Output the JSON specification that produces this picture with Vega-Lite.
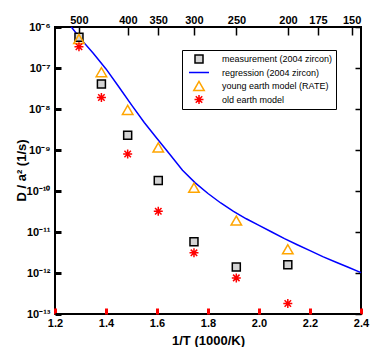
{
  "$schema": "https://vega.github.io/schema/vega-lite/v6.json",
  "width": 306,
  "height": 287,
  "autosize": {"type": "none"},
  "padding": {"left": 55, "top": 27, "right": 29, "bottom": 33},
  "datasets": {
    "pts": [
      {"s": "measurement (2004 zircon)", "x": 1.294, "d": 5.6e-7},
      {"s": "measurement (2004 zircon)", "x": 1.382, "d": 4.1e-8},
      {"s": "measurement (2004 zircon)", "x": 1.485, "d": 2.3e-9},
      {"s": "measurement (2004 zircon)", "x": 1.605, "d": 1.8e-10},
      {"s": "measurement (2004 zircon)", "x": 1.745, "d": 5.8e-12},
      {"s": "measurement (2004 zircon)", "x": 1.911, "d": 1.4e-12},
      {"s": "measurement (2004 zircon)", "x": 2.113, "d": 1.6e-12},
      {"s": "young earth model (RATE)", "x": 1.294, "d": 5.1e-7},
      {"s": "young earth model (RATE)", "x": 1.382, "d": 7.9e-8},
      {"s": "young earth model (RATE)", "x": 1.485, "d": 9.5e-9},
      {"s": "young earth model (RATE)", "x": 1.605, "d": 1.15e-9},
      {"s": "young earth model (RATE)", "x": 1.745, "d": 1.2e-10},
      {"s": "young earth model (RATE)", "x": 1.911, "d": 1.9e-11},
      {"s": "young earth model (RATE)", "x": 2.113, "d": 3.8e-12},
      {"s": "old earth model", "x": 1.294, "d": 3.3e-7},
      {"s": "old earth model", "x": 1.382, "d": 1.9e-8},
      {"s": "old earth model", "x": 1.485, "d": 8.0e-10},
      {"s": "old earth model", "x": 1.605, "d": 3.2e-11},
      {"s": "old earth model", "x": 1.745, "d": 3.1e-12},
      {"s": "old earth model", "x": 1.911, "d": 7.6e-13},
      {"s": "old earth model", "x": 2.113, "d": 1.8e-13}
    ],
    "reg": [
      {"s": "regression (2004 zircon)", "x": 1.264, "d": 1.0e-6},
      {"s": "regression (2004 zircon)", "x": 1.30, "d": 5.2e-7},
      {"s": "regression (2004 zircon)", "x": 1.35, "d": 2.3e-7},
      {"s": "regression (2004 zircon)", "x": 1.40, "d": 9.5e-8},
      {"s": "regression (2004 zircon)", "x": 1.45, "d": 3.5e-8},
      {"s": "regression (2004 zircon)", "x": 1.50, "d": 1.26e-8},
      {"s": "regression (2004 zircon)", "x": 1.55, "d": 4.7e-9},
      {"s": "regression (2004 zircon)", "x": 1.60, "d": 1.9e-9},
      {"s": "regression (2004 zircon)", "x": 1.65, "d": 7.9e-10},
      {"s": "regression (2004 zircon)", "x": 1.70, "d": 3.2e-10},
      {"s": "regression (2004 zircon)", "x": 1.75, "d": 1.58e-10},
      {"s": "regression (2004 zircon)", "x": 1.80, "d": 8.7e-11},
      {"s": "regression (2004 zircon)", "x": 1.85, "d": 5.1e-11},
      {"s": "regression (2004 zircon)", "x": 1.90, "d": 3.2e-11},
      {"s": "regression (2004 zircon)", "x": 1.95, "d": 2.1e-11},
      {"s": "regression (2004 zircon)", "x": 2.00, "d": 1.45e-11},
      {"s": "regression (2004 zircon)", "x": 2.05, "d": 1.0e-11},
      {"s": "regression (2004 zircon)", "x": 2.10, "d": 6.9e-12},
      {"s": "regression (2004 zircon)", "x": 2.15, "d": 4.9e-12},
      {"s": "regression (2004 zircon)", "x": 2.20, "d": 3.5e-12},
      {"s": "regression (2004 zircon)", "x": 2.25, "d": 2.5e-12},
      {"s": "regression (2004 zircon)", "x": 2.30, "d": 1.86e-12},
      {"s": "regression (2004 zircon)", "x": 2.35, "d": 1.38e-12},
      {"s": "regression (2004 zircon)", "x": 2.40, "d": 1.02e-12}
    ]
  },
  "layer": [
    {
      "data": {"name": "reg"},
      "mark": {"type": "line", "strokeWidth": 1.5},
      "encoding": {
        "x": {"field": "x", "type": "quantitative",
          "scale": {"type": "linear", "domain": [1.2, 2.4], "zero": false, "nice": false},
          "axis": {"orient": "bottom", "values": [1.2, 1.4, 1.6, 1.8, 2.0, 2.2, 2.4], "format": ".1f", "tickSize": -6, "tickColor": "red", "tickWidth": 3, "labelPadding": 9, "labelFlush": false, "title": "1/T  (1000/K)", "titleY": 26, "titleBaseline": "middle"}},
        "y": {"field": "d", "type": "quantitative",
          "scale": {"type": "log", "domain": [1e-13, 1e-6], "nice": false},
          "axis": {"orient": "left", "values": [1e-13, 1e-12, 1e-11, 1e-10, 1e-9, 1e-8, 1e-7, 1e-6],
            "labelExpr": "'10' + ['⁻¹³','⁻¹²','⁻¹¹','⁻¹⁰','⁻⁹','⁻⁸','⁻⁷','⁻⁶'][round(log(datum.value)/LN10)+13]",
            "tickSize": -6, "tickColor": "black", "tickWidth": 3, "labelPadding": 11, "labelFlush": false, "title": "D / a²  (1/s)", "titleX": -34, "titleY": 143, "titleAngle": -90, "titleBaseline": "middle", "titleAlign": "center"}},
        "stroke": {"field": "s", "type": "nominal",
          "scale": {"domain": ["measurement (2004 zircon)", "regression (2004 zircon)", "young earth model (RATE)", "old earth model"], "range": ["#000000", "#0000ff", "#ffa500", "#ff0000"]}}
      }
    },
    {
      "data": {"name": "pts"},
      "transform": [{"filter": "datum.s == 'measurement (2004 zircon)'"}],
      "mark": {"type": "point", "strokeWidth": 1.5, "opacity": 1},
      "encoding": {
        "x": {"field": "x", "type": "quantitative",
          "scale": {"type": "linear", "domain": [1.2, 2.4], "zero": false, "nice": false}, "axis": null},
        "y": {"field": "d", "type": "quantitative",
          "scale": {"type": "log", "domain": [1e-13, 1e-6], "nice": false}, "axis": null},
        "shape": {"field": "s", "type": "nominal",
          "scale": {"domain": ["measurement (2004 zircon)", "regression (2004 zircon)", "young earth model (RATE)", "old earth model"], "range": ["square", "stroke", "triangle-up", "M-1,0L1,0M0,-1L0,1M-0.72,-0.72L0.72,0.72M-0.72,0.72L0.72,-0.72"]},
          "legend": {"title": null, "orient": "none", "legendX": 127, "legendY": 23, "padding": 3, "strokeColor": "black", "fillColor": "white", "labelFont": "Liberation Sans", "labelFontSize": 9, "labelFontWeight": "normal", "labelColor": "black", "clipHeight": 12, "rowPadding": 1.5, "symbolOffset": 3, "labelOffset": 12, "symbolStrokeWidth": 1.5, "cornerRadius": 0}},
        "stroke": {"field": "s", "type": "nominal",
          "scale": {"domain": ["measurement (2004 zircon)", "regression (2004 zircon)", "young earth model (RATE)", "old earth model"], "range": ["#000000", "#0000ff", "#ffa500", "#ff0000"]}},
        "fill": {"field": "s", "type": "nominal",
          "scale": {"domain": ["measurement (2004 zircon)", "regression (2004 zircon)", "young earth model (RATE)", "old earth model"], "range": ["#d4d4d4", "transparent", "transparent", "transparent"]}},
        "size": {"field": "s", "type": "nominal",
          "scale": {"type": "ordinal", "domain": ["measurement (2004 zircon)", "regression (2004 zircon)", "young earth model (RATE)", "old earth model"], "range": [64, 400, 110, 81]}}
      }
    },
    {
      "data": {"name": "pts"},
      "transform": [{"filter": "datum.s == 'young earth model (RATE)'"}],
      "mark": {"type": "point", "strokeWidth": 1.5, "opacity": 1},
      "encoding": {
        "x": {"field": "x", "type": "quantitative",
          "scale": {"type": "linear", "domain": [1.2, 2.4], "zero": false, "nice": false},
          "axis": {"orient": "top", "values": [1.29341, 1.485553, 1.60475, 1.744744, 1.911498, 2.113494, 2.231396, 2.363228],
            "labelExpr": "format(1000/datum.value - 273.15, '.0f')", "tickSize": -8, "tickColor": "black", "tickWidth": 1.5, "labelPadding": 10, "labelFlush": false, "title": null}},
        "y": {"field": "d", "type": "quantitative",
          "scale": {"type": "log", "domain": [1e-13, 1e-6], "nice": false},
          "axis": {"orient": "right", "values": [1e-13, 1e-12, 1e-11, 1e-10, 1e-9, 1e-8, 1e-7, 1e-6], "labels": false, "tickSize": -6, "tickColor": "black", "tickWidth": 1.5, "title": null}},
        "shape": {"field": "s", "type": "nominal",
          "scale": {"domain": ["measurement (2004 zircon)", "regression (2004 zircon)", "young earth model (RATE)", "old earth model"], "range": ["square", "stroke", "triangle-up", "M-1,0L1,0M0,-1L0,1M-0.72,-0.72L0.72,0.72M-0.72,0.72L0.72,-0.72"]}},
        "stroke": {"field": "s", "type": "nominal",
          "scale": {"domain": ["measurement (2004 zircon)", "regression (2004 zircon)", "young earth model (RATE)", "old earth model"], "range": ["#000000", "#0000ff", "#ffa500", "#ff0000"]}},
        "fill": {"field": "s", "type": "nominal",
          "scale": {"domain": ["measurement (2004 zircon)", "regression (2004 zircon)", "young earth model (RATE)", "old earth model"], "range": ["#d4d4d4", "transparent", "transparent", "transparent"]}},
        "size": {"field": "s", "type": "nominal",
          "scale": {"type": "ordinal", "domain": ["measurement (2004 zircon)", "regression (2004 zircon)", "young earth model (RATE)", "old earth model"], "range": [64, 400, 110, 81]}}
      }
    },
    {
      "data": {"name": "pts"},
      "transform": [{"filter": "datum.s == 'old earth model'"}],
      "mark": {"type": "point", "strokeWidth": 1.5, "opacity": 1},
      "encoding": {
        "x": {"field": "x", "type": "quantitative",
          "scale": {"type": "linear", "domain": [1.2, 2.4], "zero": false, "nice": false}, "axis": null},
        "y": {"field": "d", "type": "quantitative",
          "scale": {"type": "log", "domain": [1e-13, 1e-6], "nice": false}, "axis": null},
        "shape": {"field": "s", "type": "nominal",
          "scale": {"domain": ["measurement (2004 zircon)", "regression (2004 zircon)", "young earth model (RATE)", "old earth model"], "range": ["square", "stroke", "triangle-up", "M-1,0L1,0M0,-1L0,1M-0.72,-0.72L0.72,0.72M-0.72,0.72L0.72,-0.72"]}},
        "stroke": {"field": "s", "type": "nominal",
          "scale": {"domain": ["measurement (2004 zircon)", "regression (2004 zircon)", "young earth model (RATE)", "old earth model"], "range": ["#000000", "#0000ff", "#ffa500", "#ff0000"]}},
        "fill": {"field": "s", "type": "nominal",
          "scale": {"domain": ["measurement (2004 zircon)", "regression (2004 zircon)", "young earth model (RATE)", "old earth model"], "range": ["#d4d4d4", "transparent", "transparent", "transparent"]}},
        "size": {"field": "s", "type": "nominal",
          "scale": {"type": "ordinal", "domain": ["measurement (2004 zircon)", "regression (2004 zircon)", "young earth model (RATE)", "old earth model"], "range": [64, 400, 110, 81]}}
      }
    }
  ],
  "resolve": {"axis": {"x": "independent", "y": "independent"}},
  "config": {
    "view": {"stroke": "black", "strokeWidth": 2},
    "axis": {"domain": false, "grid": false, "labelFont": "Liberation Sans", "labelFontWeight": "bold", "labelFontSize": 11, "labelColor": "black", "titleFont": "Liberation Sans", "titleFontWeight": "bold", "titleFontSize": 13, "titleColor": "black"},
    "legend": {"labelFont": "Liberation Sans"}
  }
}
